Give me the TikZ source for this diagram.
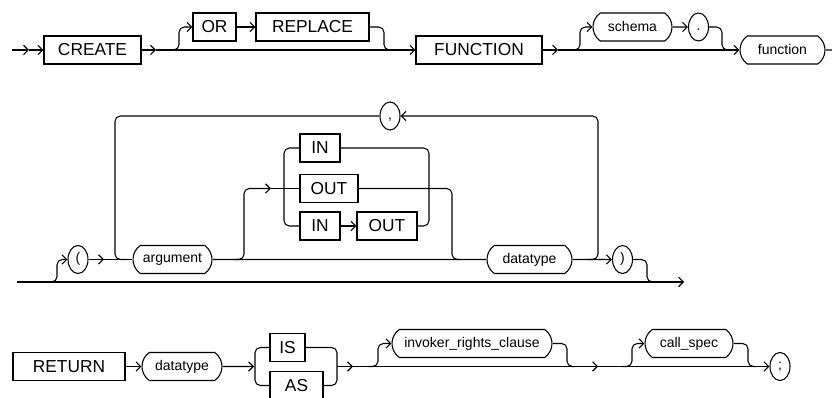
\documentclass[tikz,border=0pt]{standalone}
\usepackage{fontspec}
\setsansfont{Liberation Sans}
\usetikzlibrary{arrows.meta,shapes.misc,shapes.geometric}

\begin{document}
\begin{tikzpicture}[
  x=0.75pt, y=-0.75pt,
  line width=0.8pt,
  kw/.style={rectangle, draw, minimum height=21pt, inner sep=0pt, font=\sffamily\fontsize{13}{15}\selectfont},
  nt/.style={rounded rectangle, rounded rectangle arc length=110, draw, minimum height=21pt, inner sep=0pt, font=\sffamily\fontsize{10.5}{12}\selectfont},
  pun/.style={ellipse, draw, minimum width=15pt, minimum height=21pt, inner sep=0pt, text height=7.5pt, text depth=2.5pt, font=\sffamily\fontsize{10.5}{12}\selectfont},
  arr/.style={-{Straight Barb[length=3.5pt,width=7pt]}},
  rc/.style={rounded corners=4pt}
]
\useasboundingbox (0,0) rectangle (832,398);

% first line
\node[kw, minimum width=72.75pt] (create) at (92.5,50) {CREATE};
\node[kw, minimum width=32.25pt] (or) at (214.5,27) {OR};
\node[kw, minimum width=84.75pt] (replace) at (312.5,27) {REPLACE};
\node[kw, minimum width=94.5pt] (function) at (479,50) {FUNCTION};
\node[nt, minimum width=59.25pt] (schema) at (632.5,27) {schema};
\node[pun] (dot) at (698.5,27) {.};
\node[nt, minimum width=63.75pt] (fname) at (782.5,50) {function};

\coordinate (s0) at (12,50);
\coordinate (s1) at (29,50);
\coordinate (a1) at (156,50);
\coordinate (a2) at (558,50);
\coordinate (e1) at (832,50);

\draw[arr] (s0) -- (s1);
\draw[arr] (s1) -- (create);
\draw[arr] (create) -- (a1);
\draw[arr] (a1) -- (function);
\draw[arr, rc] (170,50) -| (179,27) -- (or);
\draw[arr] (or) -- (replace);
\draw[rc] (replace.east) -| (384,50) -- (390,50);
\draw[arr] (function) -- (a2);
\draw[arr] (a2) -- (fname);
\draw[arr, rc] (570,50) -| (580,27) -- (schema);
\draw[arr] (schema) -- (dot);
\draw[rc] (dot.east) -| (722,50) -- (728,50);
\draw (fname) -- (e1);

% argument list
\node[pun] (lpar) at (78,259.5) {(};
\node[nt, minimum width=59.25pt] (argument) at (172.5,259.5) {argument};
\node[pun] (comma) at (390,116) {,};
\node[kw, minimum width=30pt] (in1) at (320,148) {IN};
\node[kw, minimum width=43.5pt] (out1) at (329,188.5) {OUT};
\node[kw, minimum width=30pt] (in2) at (320,226) {IN};
\node[kw, minimum width=45pt] (out2) at (387,226) {OUT};
\node[nt, minimum width=63.75pt] (datatype) at (529.5,259.5) {datatype};
\node[pun] (rpar) at (622.5,259.5) {)};

\coordinate (l0) at (17,282);
\coordinate (l1) at (684,282);
\coordinate (a3) at (104,259.5);
\coordinate (a4) at (271,188.5);

\draw[arr] (l0) -- (l1);
\draw[arr, rc] (47,282) -| (57,259.5) -- (lpar);
\draw[arr] (lpar) -- (a3);
\draw (a3) -- (argument);
\draw[rc] (comma.west) -- (115,116) -- (115,259.5) -- (127,259.5);
\draw (argument) -- (datatype);
\draw[arr, rc] (235,259.5) -| (244,188.5) -- (a4);
\draw (a4) -- (out1);
\draw[rc] (in1.west) -- (284,148) -- (284,226) -- (in2.west);
\draw[arr] (in2) -- (out2);
\draw[rc] (in1.east) -- (429,148) -- (429,226) -- (out2.east);
\draw[rc] (out1.east) -- (452,188.5) -- (452,259.5) -- (459,259.5);
\draw[arr, rc] (588,259.5) -| (598,116) -- (comma);
\draw[arr] (datatype) -- (rpar);
\draw[rc] (rpar.east) -| (647,282) -- (651,282);

% return clause
\node[kw, minimum width=84pt] (return) at (69,366.5) {RETURN};
\node[nt, minimum width=60pt] (datatype2) at (182,366.5) {datatype};
\node[kw, minimum width=26.25pt] (is) at (287.5,347.5) {IS};
\node[kw, minimum width=39.75pt] (as) at (296.5,385.5) {AS};
\node[nt, minimum width=120pt] (invoker) at (472,343.5) {invoker\_rights\_clause};
\node[nt, minimum width=66pt] (callspec) at (689,343.5) {call\_spec};
\node[pun] (semi) at (780,366.5) {;};

\coordinate (a5) at (254,366.5);
\coordinate (b5) at (337,366.5);
\coordinate (a6) at (353,366.5);
\coordinate (a7) at (598,366.5);

\draw[arr] (return) -- (datatype2);
\draw[arr] (datatype2) -- (a5);
\draw[rc] (is.west) -- (255,347.5) -- (255,385.5) -- (as.west);
\draw[rc] (is.east) -- (337,347.5) -- (337,385.5) -- (as.east);
\draw[arr] (b5) -- (a6);
\draw[arr] (a6) -- (a7);
\draw[arr] (a7) -- (semi);
\draw[arr, rc] (368,366.5) -| (378,343.5) -- (invoker);
\draw[rc] (invoker.east) -| (567,366.5) -- (572,366.5);
\draw[arr, rc] (622,366.5) -| (632,343.5) -- (callspec);
\draw[rc] (callspec.east) -| (748,366.5) -- (753,366.5);
\end{tikzpicture}
\end{document}
